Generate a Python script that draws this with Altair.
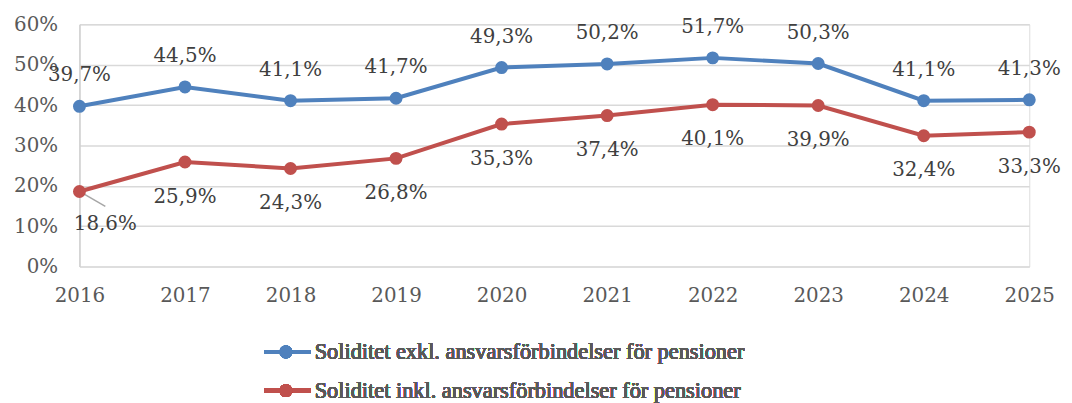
import altair as alt
import pandas as pd

years = [2016, 2017, 2018, 2019, 2020, 2021, 2022, 2023, 2024, 2025]
exkl = [39.7, 44.5, 41.1, 41.7, 49.3, 50.2, 51.7, 50.3, 41.1, 41.3]
inkl = [18.6, 25.9, 24.3, 26.8, 35.3, 37.4, 40.1, 39.9, 32.4, 33.3]
series = [
    "Soliditet exkl. ansvarsförbindelser för pensioner",
    "Soliditet inkl. ansvarsförbindelser för pensioner",
]
colors = ["#4F81BD", "#C0504D"]
y_ticks = [0, 10, 20, 30, 40, 50, 60]

df = pd.DataFrame({
    "year": years + years,
    "value": exkl + inkl,
    "series": [series[0]] * len(years) + [series[1]] * len(years),
})

NUM_FONT = "DejaVu Serif"
LEG_FONT = "Liberation Serif"
W, H = 957, 244

x = alt.X(
    "year:Q",
    scale=alt.Scale(domain=[2016, 2025], nice=False, zero=False),
    axis=alt.Axis(values=years, format="d", title=None, grid=False, ticks=False,
                  domain=False, labelFont=NUM_FONT, labelFontSize=20,
                  labelColor="#595959", labelPadding=19, labelFlush=False),
)
y = alt.Y(
    "value:Q",
    scale=alt.Scale(domain=[0, 60], nice=False),
    axis=alt.Axis(values=y_ticks, labelExpr="datum.value + '%'", title=None,
                  grid=True, gridColor="#D9D9D9", gridWidth=1.5, ticks=False,
                  domain=True, domainColor="#D0D0D0", domainWidth=1.5,
                  labelFont=NUM_FONT, labelFontSize=20, labelColor="#595959",
                  labelPadding=22),
)
color = alt.Color("series:N", scale=alt.Scale(domain=series, range=colors), legend=None)

base = alt.Chart(df).encode(x=x, y=y, color=color)

lines = base.mark_line(strokeWidth=4)
points = base.mark_point(filled=True, size=170, opacity=1)

label_expr = "replace(format(datum.value, '.1f'), '.', ',') + '%'"
text_base = base.transform_calculate(lbl=label_expr).encode(text="lbl:N", color=alt.value("#404040"))

blue_labels = text_base.transform_filter(alt.datum.series == series[0]).mark_text(
    font=NUM_FONT, fontSize=20, dy=-31, baseline="middle")
red_labels = text_base.transform_filter(
    (alt.datum.series == series[1]) & (alt.datum.year != 2016)).mark_text(
    font=NUM_FONT, fontSize=20, dy=35, baseline="middle")
red_first = text_base.transform_filter(
    (alt.datum.series == series[1]) & (alt.datum.year == 2016)).mark_text(
    font=NUM_FONT, fontSize=20, dx=26, dy=33, baseline="middle")

leader = alt.Chart(df).transform_filter(
    (alt.datum.series == series[1]) & (alt.datum.year == 2016)
).transform_calculate(
    x2="datum.year + 0.245", y2="datum.value - 3.7"
).mark_rule(color="#A6A6A6", strokeWidth=1.5).encode(
    x=alt.X("year:Q"), y=alt.Y("value:Q"), x2="x2:Q", y2="y2:Q")

# legend drawn manually
leg_layers = []
leg_rows = [330, 369]
for name, col, ly in zip(series, colors, leg_rows):
    leg_layers.append(alt.Chart(df).mark_rule(color=col, strokeWidth=4).encode(
        x=alt.value(186), x2=alt.value(233), y=alt.value(ly)))
    leg_layers.append(alt.Chart(df).mark_point(filled=True, size=170, opacity=1, color=col).encode(
        x=alt.value(208), y=alt.value(ly)))
    leg_layers.append(alt.Chart(df).mark_text(font=LEG_FONT, fontSize=22.5, fontWeight="normal",
                                              align="left", baseline="middle", color="#595959").encode(
        x=alt.value(237), y=alt.value(ly), text=alt.value(name)))

chart = alt.layer(leader, lines, points, blue_labels, red_labels, red_first, *leg_layers).properties(
    width=W, height=H,
    autosize=alt.AutoSizeParams(type="none"),
    padding={"left": 72, "top": 15, "right": 35, "bottom": 136},
).configure_view(stroke=None).configure(background="white")

chart.save("out.html", embed_options={"renderer": "svg", "actions": False})
